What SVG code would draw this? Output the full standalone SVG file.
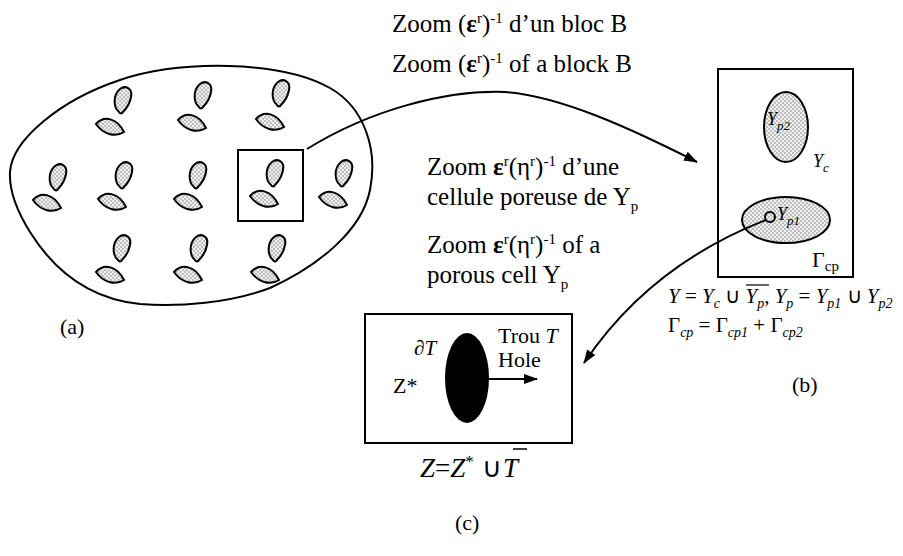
<svg xmlns="http://www.w3.org/2000/svg" xmlns:xlink="http://www.w3.org/1999/xlink" width="903" height="556" viewBox="0 0 903 556">
<defs>
  <pattern id="dots" width="4" height="4" patternUnits="userSpaceOnUse">
    <rect width="4" height="4" fill="#efefef"/>
    <circle cx="1" cy="1" r="0.9" fill="#a8a8a8"/>
    <circle cx="3" cy="3" r="0.9" fill="#a8a8a8"/>
  </pattern>
  <path id="leaf" d="M -4,12 C -10,7 -10,-5 -3,-11 C 2,-15 10,-12 8,-3 C 7,3 3,9 0,12 C -1,14 -3,14 -4,12 Z"/>
  <path id="lens" d="M -14,-3 C -6,-12 7,-9 14,5 C 5,11 -7,7 -14,-3 Z"/>
  <marker id="arr" markerWidth="14" markerHeight="10" refX="13" refY="5" orient="auto" markerUnits="userSpaceOnUse">
    <path d="M0,0 L14,5 L0,10 Z" fill="#000"/>
  </marker>
  <style>
    text{font-family:"Liberation Serif","Times New Roman",serif;fill:#000}
    .it{font-style:italic}
    .pt{fill:url(#dots);stroke:#000;stroke-width:2}
    .box{fill:none;stroke:#000;stroke-width:2}
    .con{fill:none;stroke:#000;stroke-width:2}
  </style>
</defs>
<rect width="903" height="556" fill="#fff"/>

<g id="region-a">
  <path d="M 10,172 C 12,140 60,100 120,80 C 180,60 280,60 330,88 C 365,108 378,150 370,190 C 362,230 320,265 270,288 C 230,303 180,307 140,304 C 90,299 55,272 30,232 C 15,208 9,190 10,172 Z" fill="none" stroke="#000" stroke-width="2"/>
  <g class="pt">
    <use xlink:href="#leaf" x="123" y="100"/><use xlink:href="#lens" x="110" y="127"/>
    <use xlink:href="#leaf" x="203" y="95"/><use xlink:href="#lens" x="192" y="123"/>
    <use xlink:href="#leaf" x="281" y="93"/><use xlink:href="#lens" x="270" y="122"/>
    <use xlink:href="#leaf" x="58" y="177"/><use xlink:href="#lens" x="47" y="203"/>
    <use xlink:href="#leaf" x="124" y="175"/><use xlink:href="#lens" x="112" y="202"/>
    <use xlink:href="#leaf" x="198" y="175"/><use xlink:href="#lens" x="188" y="202"/>
    <use xlink:href="#leaf" x="275" y="173"/><use xlink:href="#lens" x="264" y="199"/>
    <use xlink:href="#leaf" x="344" y="173"/><use xlink:href="#lens" x="333" y="200"/>
    <use xlink:href="#leaf" x="122" y="248"/><use xlink:href="#lens" x="110" y="275"/>
    <use xlink:href="#leaf" x="199" y="248"/><use xlink:href="#lens" x="188" y="275"/>
    <use xlink:href="#leaf" x="277" y="248"/><use xlink:href="#lens" x="265" y="275"/>
  </g>
  <rect class="box" x="238" y="150" width="65" height="71"/>
  <text x="60" y="334" font-size="22">(a)</text>
</g>

<g id="region-b">
  <rect class="box" x="718" y="69" width="135" height="208"/>
  <ellipse class="pt" cx="786" cy="127" rx="22" ry="35"/>
  <ellipse class="pt" cx="786" cy="220" rx="44" ry="23"/>
  <circle cx="770" cy="217" r="5" fill="none" stroke="#000" stroke-width="2"/>
  <text x="767" y="125" font-size="18" class="it">Y<tspan dy="5" font-size="13">p2</tspan></text>
  <text x="813" y="167" font-size="18" class="it">Y<tspan dy="5" font-size="13">c</tspan></text>
  <text x="777" y="220" font-size="18" class="it">Y<tspan dy="5" font-size="13">p1</tspan></text>
  <text x="812" y="267" font-size="22">Γ<tspan dy="4" font-size="15">cp</tspan></text>
  <text x="668" y="303" font-size="21"><tspan class="it">Y</tspan> = <tspan class="it">Y</tspan><tspan class="it" dy="5" font-size="14">c</tspan><tspan dy="-5"> ∪ </tspan><tspan class="it">Y</tspan><tspan class="it" dy="5" font-size="14">p</tspan><tspan dy="-5">, </tspan><tspan class="it">Y</tspan><tspan class="it" dy="5" font-size="14">p</tspan><tspan dy="-5"> = </tspan><tspan class="it">Y</tspan><tspan class="it" dy="5" font-size="14">p1</tspan><tspan dy="-5"> ∪ </tspan><tspan class="it">Y</tspan><tspan class="it" dy="5" font-size="14">p2</tspan></text>
  <line x1="746" y1="285" x2="769" y2="285" stroke="#000" stroke-width="1.2"/>
  <text x="668" y="332" font-size="21">Γ<tspan class="it" dy="5" font-size="14">cp</tspan><tspan dy="-5"> = Γ</tspan><tspan class="it" dy="5" font-size="14">cp1</tspan><tspan dy="-5"> + Γ</tspan><tspan class="it" dy="5" font-size="14">cp2</tspan></text>
  <text x="792" y="392" font-size="22">(b)</text>
</g>

<g id="region-c">
  <rect class="box" x="365" y="314" width="207" height="129"/>
  <ellipse cx="467" cy="378" rx="22" ry="45" fill="#000"/>
  <line x1="489" y1="379" x2="537" y2="379" stroke="#000" stroke-width="2" marker-end="url(#arr)"/>
  <text x="414" y="355" font-size="21" class="it">∂T</text>
  <text x="498" y="343" font-size="22">Trou <tspan class="it">T</tspan></text>
  <text x="498" y="367" font-size="22">Hole</text>
  <text x="393" y="393" font-size="22">Z*</text>
  <text x="420" y="477" font-size="27"><tspan class="it">Z</tspan>=<tspan class="it">Z</tspan><tspan dy="-10" font-size="17">*</tspan><tspan x="482" dy="10">∪</tspan><tspan class="it" x="503">T</tspan></text>
  <line x1="513" y1="449" x2="527" y2="449" stroke="#000" stroke-width="1.5"/>
  <text x="455" y="530" font-size="22">(c)</text>
</g>

<g id="labels">
  <text x="392" y="32" font-size="25">Zoom (<tspan font-weight="bold">ε</tspan><tspan dy="-9" font-size="15">r</tspan><tspan dy="9">)</tspan><tspan dy="-9" font-size="15">-1</tspan><tspan dy="9"> d’un bloc B</tspan></text>
  <text x="392" y="72" font-size="25">Zoom (<tspan font-weight="bold">ε</tspan><tspan dy="-9" font-size="15">r</tspan><tspan dy="9">)</tspan><tspan dy="-9" font-size="15">-1</tspan><tspan dy="9"> of a block B</tspan></text>
  <text x="427" y="175" font-size="25">Zoom <tspan font-weight="bold">ε</tspan><tspan dy="-9" font-size="15">r</tspan><tspan dy="9">(η</tspan><tspan dy="-9" font-size="15">r</tspan><tspan dy="9">)</tspan><tspan dy="-9" font-size="15">-1</tspan><tspan dy="9"> d’une</tspan></text>
  <text x="427" y="205" font-size="25">cellule poreuse de Y<tspan dy="6" font-size="15">p</tspan></text>
  <text x="427" y="253" font-size="25">Zoom <tspan font-weight="bold">ε</tspan><tspan dy="-9" font-size="15">r</tspan><tspan dy="9">(η</tspan><tspan dy="-9" font-size="15">r</tspan><tspan dy="9">)</tspan><tspan dy="-9" font-size="15">-1</tspan><tspan dy="9"> of a</tspan></text>
  <text x="427" y="283" font-size="25">porous cell Y<tspan dy="6" font-size="15">p</tspan></text>
</g>

<g id="connectors">
  <path class="con" d="M 307,149 C 370,110 445,90 505,92 C 560,96 630,128 697,162" marker-end="url(#arr)"/>
  <path class="con" d="M 766,220 Q 650,265 584,363" marker-end="url(#arr)"/>
</g>
</svg>
